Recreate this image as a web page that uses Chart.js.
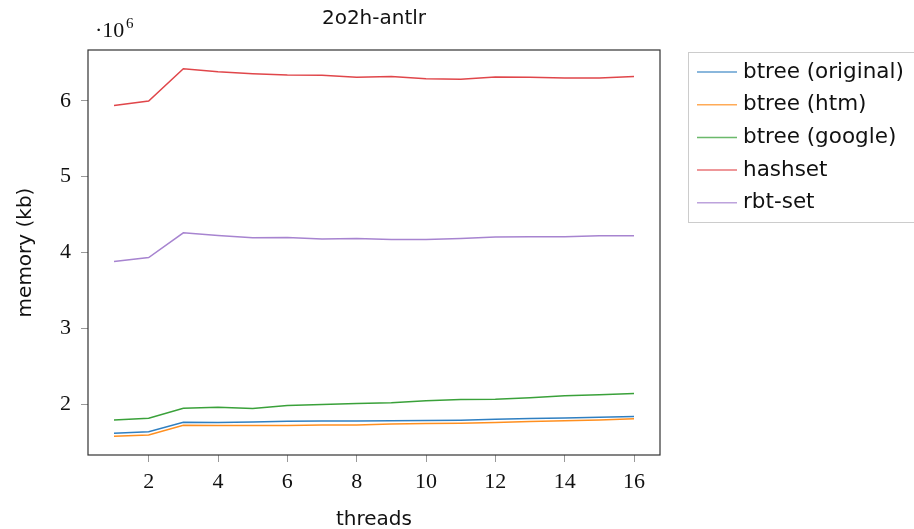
<!DOCTYPE html>
<html>
<head>
<meta charset="utf-8">
<script src="https://cdn.jsdelivr.net/npm/chart.js@4/dist/chart.umd.min.js"></script>
<style>
  html, body { margin: 0; padding: 0; background: #fff; }
  #wrap { width: 914px; height: 529px; }
</style>
</head>
<body>
<div id="wrap"><canvas id="myChart" width="914" height="529"></canvas></div>
<script>
// threads on the x axis
const threads = [1, 2, 3, 4, 5, 6, 7, 8, 9, 10, 11, 12, 13, 14, 15, 16];
const xTicks = [2, 4, 6, 8, 10, 12, 14, 16];
const yTicks = [2e6, 3e6, 4e6, 5e6, 6e6];

// memory (kb)
const btreeOriginal = [1.616e6, 1.638e6, 1.762e6, 1.757e6, 1.766e6, 1.775e6, 1.777e6, 1.778e6, 1.780e6, 1.786e6, 1.788e6, 1.800e6, 1.810e6, 1.818e6, 1.828e6, 1.837e6];
const btreeHtm      = [1.576e6, 1.594e6, 1.722e6, 1.720e6, 1.718e6, 1.720e6, 1.724e6, 1.727e6, 1.738e6, 1.745e6, 1.750e6, 1.760e6, 1.772e6, 1.782e6, 1.792e6, 1.808e6];
const btreeGoogle   = [1.792e6, 1.815e6, 1.947e6, 1.960e6, 1.943e6, 1.982e6, 1.996e6, 2.009e6, 2.018e6, 2.044e6, 2.062e6, 2.066e6, 2.084e6, 2.110e6, 2.124e6, 2.141e6];
const hashset       = [5.938e6, 5.996e6, 6.424e6, 6.384e6, 6.358e6, 6.340e6, 6.336e6, 6.310e6, 6.320e6, 6.290e6, 6.285e6, 6.315e6, 6.310e6, 6.300e6, 6.300e6, 6.320e6];
const rbtSet        = [3.881e6, 3.934e6, 4.260e6, 4.225e6, 4.194e6, 4.199e6, 4.177e6, 4.185e6, 4.172e6, 4.172e6, 4.185e6, 4.203e6, 4.208e6, 4.208e6, 4.220e6, 4.220e6];

const seriesNames = ['btree (original)', 'btree (htm)', 'btree (google)', 'hashset', 'rbt-set'];
const seriesData = [btreeOriginal, btreeHtm, btreeGoogle, hashset, rbtSet];
const colors = ['#2f7fc1', '#ff8f1f', '#3aa13a', '#e0464a', '#a784d0'];

const SERIF = '"Liberation Serif", "DejaVu Serif", serif';
const SANS = '"DejaVu Sans", "Liberation Sans", sans-serif';

function pts(arr) {
    return threads.map((t, i) => ({ x: t, y: arr[i] }));
}

// frame, title, exponent and legend box
const extras = {
    id: 'extras',
    afterDraw(chart) {
        const c = chart.ctx;
        const a = chart.chartArea;
        c.save();
        c.strokeStyle = '#333';
        c.lineWidth = 1.2;
        c.strokeRect(a.left, a.top, a.right - a.left, a.bottom - a.top);

        c.fillStyle = '#111';
        c.font = '20px ' + SANS;
        c.textAlign = 'center';
        c.textBaseline = 'middle';
        c.fillText('2o2h-antlr', (a.left + a.right) / 2, 19);

        c.font = '22px ' + SERIF;
        c.textAlign = 'left';
        c.fillText('\u00b710', 95, 31);
        c.font = '15px ' + SERIF;
        c.fillText('6', 126, 24);

        // legend
        const lx = 688, ly = 52, lw = 226, lh = 170;
        c.strokeStyle = '#cccccc';
        c.lineWidth = 1;
        c.strokeRect(lx + 0.5, ly + 0.5, lw, lh);
        c.font = '21.5px ' + SANS;
        chart.data.datasets.forEach((ds, i) => {
            const y = 72 + i * 32.7;
            c.strokeStyle = ds.borderColor;
            c.globalAlpha = 0.75;
            c.lineWidth = 1.5;
            c.beginPath();
            c.moveTo(697, y);
            c.lineTo(737, y);
            c.stroke();
            c.globalAlpha = 1;
            c.fillStyle = '#111';
            c.textBaseline = 'middle';
            c.fillText(ds.label, 743, y);
        });
        c.restore();
    }
};

window.onload = function () {
    const ctx = document.getElementById('myChart').getContext('2d');
    const chart = new Chart(ctx, {
        type: 'line',
        data: {
            datasets: seriesNames.map((name, i) => ({
                label: name,
                data: pts(seriesData[i]),
                borderColor: colors[i],
                backgroundColor: colors[i],
                borderWidth: 1.5,
                pointRadius: 0,
                tension: 0,
                fill: false
            }))
        },
        options: {
            responsive: false,
            animation: false,
            layout: { padding: { left: 14, right: 254, top: 50, bottom: 0 } },
            plugins: {
                legend: { display: false },
                tooltip: { enabled: false }
            },
            scales: {
                x: {
                    type: 'linear',
                    min: 0.25,
                    max: 16.75,
                    afterBuildTicks(s) { s.ticks = xTicks.map(v => ({ value: v })); },
                    afterFit(s) { s.height = 74; },
                    ticks: {
                        color: '#111',
                        font: { family: SERIF, size: 22 },
                        padding: 7,
                        maxRotation: 0,
                        callback: v => String(v)
                    },
                    grid: { drawOnChartArea: false, drawTicks: true, tickLength: 7, color: '#999' },
                    border: { display: false },
                    title: {
                        display: true,
                        text: 'threads',
                        color: '#111',
                        font: { family: SANS, size: 20, lineHeight: 0.9 },
                        padding: { top: 5, bottom: 0 }
                    }
                },
                y: {
                    min: 1.33e6,
                    max: 6.67e6,
                    afterBuildTicks(s) { s.ticks = yTicks.map(v => ({ value: v })); },
                    afterFit(s) { s.width = 74; },
                    ticks: {
                        color: '#111',
                        font: { family: SERIF, size: 22 },
                        padding: 10,
                        callback: v => String(v / 1e6)
                    },
                    grid: { drawOnChartArea: false, drawTicks: true, tickLength: 7, color: '#999' },
                    border: { display: false },
                    title: {
                        display: true,
                        text: 'memory (kb)',
                        color: '#111',
                        font: { family: SANS, size: 20 },
                        padding: { top: 0, bottom: 8 }
                    }
                }
            }
        },
        plugins: [extras]
    });
}
</script>
</body>
</html>
